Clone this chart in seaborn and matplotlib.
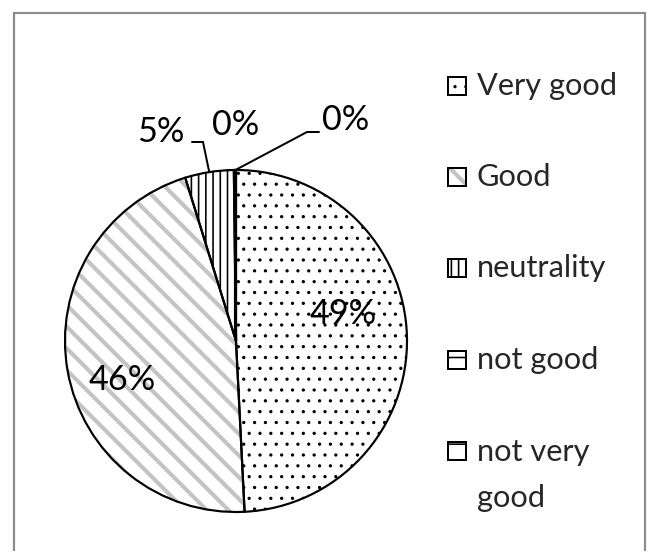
import numpy as np
import matplotlib
matplotlib.use("Agg")
import matplotlib.pyplot as plt
from matplotlib.patches import Rectangle
import seaborn as sns

# ---- data ----
categories = ["Very good", "Good", "neutrality", "not good", "not very good"]
legend_labels = ["Very good", "Good", "neutrality", "not good", "not very\ngood"]
values = [49.2, 46.0, 4.6, 0.1, 0.1]

# ---- style ----
hatches = ['..', '\\\\', '|||', '-', '+']
hatch_colors = ['black', '#C4C4C4', 'black', 'black', 'black']
hatch_lws = [0.6, 2.3, 0.9, 0.9, 0.9]

sns.set_theme(style="white")
plt.rcParams['font.family'] = ['Lato', 'DejaVu Sans']

DPI = 130
W, H = 650, 551
fig = plt.figure(figsize=(W / DPI, H / DPI), dpi=DPI)
ax = fig.add_axes([0, 0, 1, 1])

CX, CY, R = 236, 341, 171


def d(px, py):
    return ((px - CX) / R, (CY - py) / R)


def set_hlw(p, lw):
    if hasattr(p, 'set_hatch_linewidth'):
        p.set_hatch_linewidth(lw)


# hatched fills
fills, _ = ax.pie(values, startangle=90, counterclock=False, radius=1,
                  colors=['white'] * len(values), wedgeprops=dict(linewidth=0))
for w, h, c, lw in zip(fills, hatches, hatch_colors, hatch_lws):
    w.set_edgecolor(c)
    w.set_linewidth(0)
    w.set_hatch(h)
    set_hlw(w, lw)

# outlines
outlines, _ = ax.pie(values, startangle=90, counterclock=False, radius=1,
                     colors=['none'] * len(values),
                     wedgeprops=dict(linewidth=1.2, edgecolor='black'))

ax.set_xlim((0 - CX) / R, (W - CX) / R)
ax.set_ylim((CY - H) / R, CY / R)
ax.set_aspect('auto')
ax.axis('off')

# percentage labels (layout positions in pixels)
label_layout = [(343, 314, 'center'), (122, 380, 'center'), (184, 132, 'right'),
                (236, 125, 'center'), (322, 120, 'left')]
for v, (px, py, ha) in zip(values, label_layout):
    x, y = d(px, py)
    ax.text(x, y, f"{v:.0f}%", fontsize=19, ha=ha, va='center', color='black')

# leader lines
leaders = {2: [(203, 142), (192, 142)], 4: [(307, 132), (319, 132)]}
for idx, pts in leaders.items():
    w = outlines[idx]
    mid = np.deg2rad((w.theta1 + w.theta2) / 2)
    xs = [np.cos(mid)] + [d(*p)[0] for p in pts]
    ys = [np.sin(mid)] + [d(*p)[1] for p in pts]
    ax.plot(xs, ys, color='black', lw=1.1, solid_joinstyle='miter')

# legend (manual, to match layout)
box = 18
line_gap = 47
for i, (lab, h, c, lw) in enumerate(zip(legend_labels, hatches, hatch_colors, hatch_lws)):
    yc = 86 + 91.2 * i
    x0, y0 = d(448, yc + box / 2)
    r1 = Rectangle((x0, y0), box / R, box / R, facecolor='white', edgecolor=c,
                   hatch=h, linewidth=0)
    set_hlw(r1, lw)
    ax.add_patch(r1)
    ax.add_patch(Rectangle((x0, y0), box / R, box / R, fill=False,
                           edgecolor='black', linewidth=1.1))
    nlines = lab.count("\n") + 1
    tx, ty = d(477, yc + 9 + line_gap * (nlines - 1))
    ax.text(tx, ty, lab, fontsize=17, ha='left', va='baseline', linespacing=1.79)

# outer frame
fig.add_artist(Rectangle((13.5 / W, -0.02), (644.5 - 13.5) / W, 1.02 - 12.5 / H,
                         transform=fig.transFigure, fill=False,
                         edgecolor='#8c8c8c', linewidth=1.2))

fig.savefig("out.png", dpi=DPI)
